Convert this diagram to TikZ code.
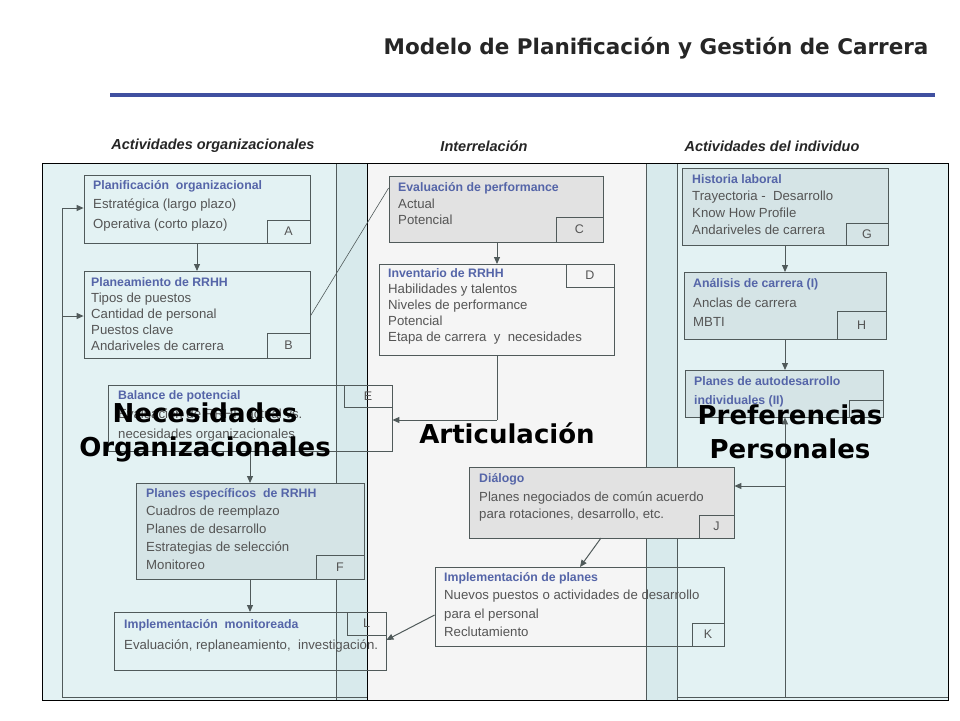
\documentclass[tikz,border=0pt]{standalone}
\usepackage{fontspec}
\setmainfont{Liberation Sans}
\newfontfamily\bigf{DejaVu Sans}
\usetikzlibrary{fit,calc,arrows.meta}
\definecolor{cyanbg}{HTML}{E3F2F3}
\definecolor{strip}{HTML}{D8EAEC}
\definecolor{midbg}{HTML}{F5F5F5}
\definecolor{graybox}{HTML}{E2E2E2}
\definecolor{dcyan}{HTML}{D5E4E6}
\definecolor{ttl}{HTML}{5565A8}
\definecolor{body}{HTML}{555555}
\definecolor{edge}{HTML}{505A5A}
\definecolor{rule}{HTML}{4050A0}
\tikzset{
 box/.style={draw=edge, line width=0.8pt, inner sep=0pt},
 lab/.style={draw=edge, line width=0.8pt, inner sep=0pt},
 lt/.style={text=body, font=\fontsize{12.5}{12}\selectfont},
 txt/.style={anchor=north west, align=left, inner sep=0pt, text=body, font=\fontsize{13.2}{16}\selectfont},
 arr/.style={draw=edge, line width=1pt, -{Triangle[length=7pt,width=6pt]}},
 thin/.style={draw=edge, line width=0.6pt},
 big/.style={font=\bigf\bfseries\fontsize{26}{34}\selectfont, align=center, text=black},
 hdr/.style={font=\bfseries\itshape\fontsize{14.5}{16}\selectfont, text=black!85}
}
\newcommand\tl[1]{{\color{ttl}\bfseries\fontsize{12.3}{15}\selectfont #1}}
\begin{document}
\begin{tikzpicture}[x=1pt,y=-1pt]
\useasboundingbox (0,0) rectangle (960,720);
\fill[white] (0,0) rectangle (960,720);
% title
\node[anchor=east, font=\bigf\bfseries\fontsize{21.5}{24}\selectfont, text=black!85] (title) at (932,48) {Modelo de Planificación y Gestión de Carrera};
\draw[rule, line width=4pt] (110,95) -- (935,95);
% headers
\node[hdr] (h1) at (213,146) {Actividades organizacionales};
\node[hdr] (h2) at (484,146) {Interrelación};
\node[hdr] (h3) at (772,146) {Actividades del individuo};
% panels
\fill[midbg] (367,163) rectangle (646,700);
\fill[cyanbg] (42,163) rectangle (367,700);
\fill[strip] (336,163) rectangle (367,700);
\fill[cyanbg] (646,163) rectangle (948,700);
\fill[strip] (646,163) rectangle (677,700);
\draw[edge, line width=0.8pt] (336,163) -- (336,700) (646,163) -- (646,700) (677,163) -- (677,700) (62,208) -- (62,697) (62,697)--(367,697) (677,697)--(948,697);
\draw[black, line width=1pt] (42,163) rectangle (948,700);
\draw[black, line width=1pt] (367,163) -- (367,700);
% boxes
\node[box, fit={(84,175)(310,243)}] (A) {};
\node[lab, fit={(267,220)(310,243)}] (Al) {}; \node[lt] at (Al) {A};
\node[txt] at (93,180) {\tl{Planificación \ organizacional}\\[3pt]Estratégica (largo plazo)\\[4pt]Operativa (corto plazo)};

\node[box, fit={(84,271)(310,358)}] (B) {};
\node[lab, fit={(267,333)(310,358)}] (Bl) {}; \node[lt] at (Bl) {B};
\node[txt] at (91,277) {\tl{Planeamiento de RRHH}\\Tipos de puestos\\Cantidad de personal\\Puestos clave\\Andariveles de carrera};

\node[box, fit={(108,385)(392,451)}] (E) {};
\node[lab, fit={(344,385)(392,407)}] (El) {}; \node[lt] at (El) {E};
\node[txt] at (118,390) {\tl{Balance de potencial}\\[3pt]Evaluación de RRHH actual vs.\\[4pt]necesidades organizacionales};

\node[box, fill=dcyan, fit={(136,483)(364,579)}] (F) {};
\node[lab, fit={(316,555)(364,579)}] (Fl) {}; \node[lt] at (Fl) {F};
\node[txt, font=\fontsize{13.2}{18}\selectfont] at (146,488) {\tl{Planes específicos \ de RRHH}\\Cuadros de reemplazo\\Planes de desarrollo\\Estrategias de selección\\Monitoreo};

\node[box, fit={(114,612)(386,670)}] (L) {};
\node[lab, fit={(347,612)(386,635)}] (Ll) {}; \node[lt] at (Ll) {L};
\node[txt, font=\fontsize{13.2}{21}\selectfont] at (124,619) {\tl{Implementación \ monitoreada}\\Evaluación, replaneamiento, \ investigación.};

\node[box, fill=graybox, fit={(389,176)(603,242)}] (C) {};
\node[lab, fit={(556,217)(603,242)}] (Cl) {}; \node[lt] at (Cl) {C};
\node[txt] at (398,182) {\tl{Evaluación de performance}\\[1pt]Actual\\Potencial};

\node[box, fit={(379,264)(614,355)}] (D) {};
\node[lab, fit={(566,264)(614,287)}] (Dl) {}; \node[lt] at (Dl) {D};
\node[txt] at (388,268) {\tl{Inventario de RRHH}\\Habilidades y talentos\\Niveles de performance\\Potencial\\Etapa de carrera \ y \ necesidades};

\node[box, fill=graybox, fit={(469,467)(734,538)}] (J) {};
\node[lab, fit={(699,515)(734,538)}] (Jl) {}; \node[lt] at (Jl) {J};
\node[txt, font=\fontsize{13.2}{17}\selectfont] at (479,473) {\tl{Diálogo}\\[2pt]Planes negociados de común acuerdo\\para rotaciones, desarrollo, etc.};

\node[box, fit={(435,567)(724,646)}] (K) {};
\node[lab, fit={(692,623)(724,646)}] (Kl) {}; \node[lt] at (Kl) {K};
\node[txt, font=\fontsize{13.2}{18.5}\selectfont] at (444,572) {\tl{Implementación de planes}\\Nuevos puestos o actividades de desarrollo\\para el personal\\Reclutamiento};

\node[box, fill=dcyan, fit={(682,168)(888,245)}] (G) {};
\node[lab, fit={(846,223)(888,245)}] (Gl) {}; \node[lt] at (Gl) {G};
\node[txt, font=\fontsize{13.2}{17}\selectfont] at (692,174) {\tl{Historia laboral}\\Trayectoria - \ Desarrollo\\Know How Profile\\Andariveles de carrera};

\node[box, fill=dcyan, fit={(684,272)(886,339)}] (H) {};
\node[lab, fit={(837,311)(886,339)}] (Hl) {}; \node[lt] at (Hl) {H};
\node[txt, font=\fontsize{13.2}{19}\selectfont] at (693,278) {\tl{Análisis de carrera (I)}\\[1pt]Anclas de carrera\\MBTI};

\node[box, fill=dcyan, fit={(685,370)(883,417)}] (I) {};
\node[lab, fit={(849,400)(883,417)}] (Il) {};
\node[txt, font=\fontsize{13.2}{19}\selectfont] at (694,376) {\tl{Planes de autodesarrollo}\\\tl{individuales (II)}};

% connectors
\draw[arr] (A.south -| 197,0) -- (197,271);
\draw[thin] (B.east |- 0,316) -- (C.west |- 0,188);
\draw[arr] (497,242) -- (497,264);
\draw[thin] (497,355) -- (497,420);
\draw[arr] (497,420) -- (E.east |- 0,420);
\draw[arr] (250,451) -- (250,483);
\draw[arr] (250,579) -- (250,612);
\draw[arr] (K.west |- 0,615) -- (L.east |- 0,640);
\draw[arr] (601,538) -- (580,567);
\draw[arr] (785,245) -- (785,272);
\draw[arr] (785,339) -- (785,370);
\draw[arr] (785,697) -- (I.south -| 785,0);
\draw[arr] (785,486) -- (J.east |- 0,486);
\draw[arr] (62,208) -- (A.west |- 0,208);
\draw[arr] (62,316) -- (B.west |- 0,316);
% big labels
\node[big] (n1) at (205,432) {Necesidades\\Organizacionales};
\node[big] (n2) at (507,433) {Articulación};
\node[big] (n3) at (790,432) {Preferencias\\Personales};
\end{tikzpicture}
\end{document}
